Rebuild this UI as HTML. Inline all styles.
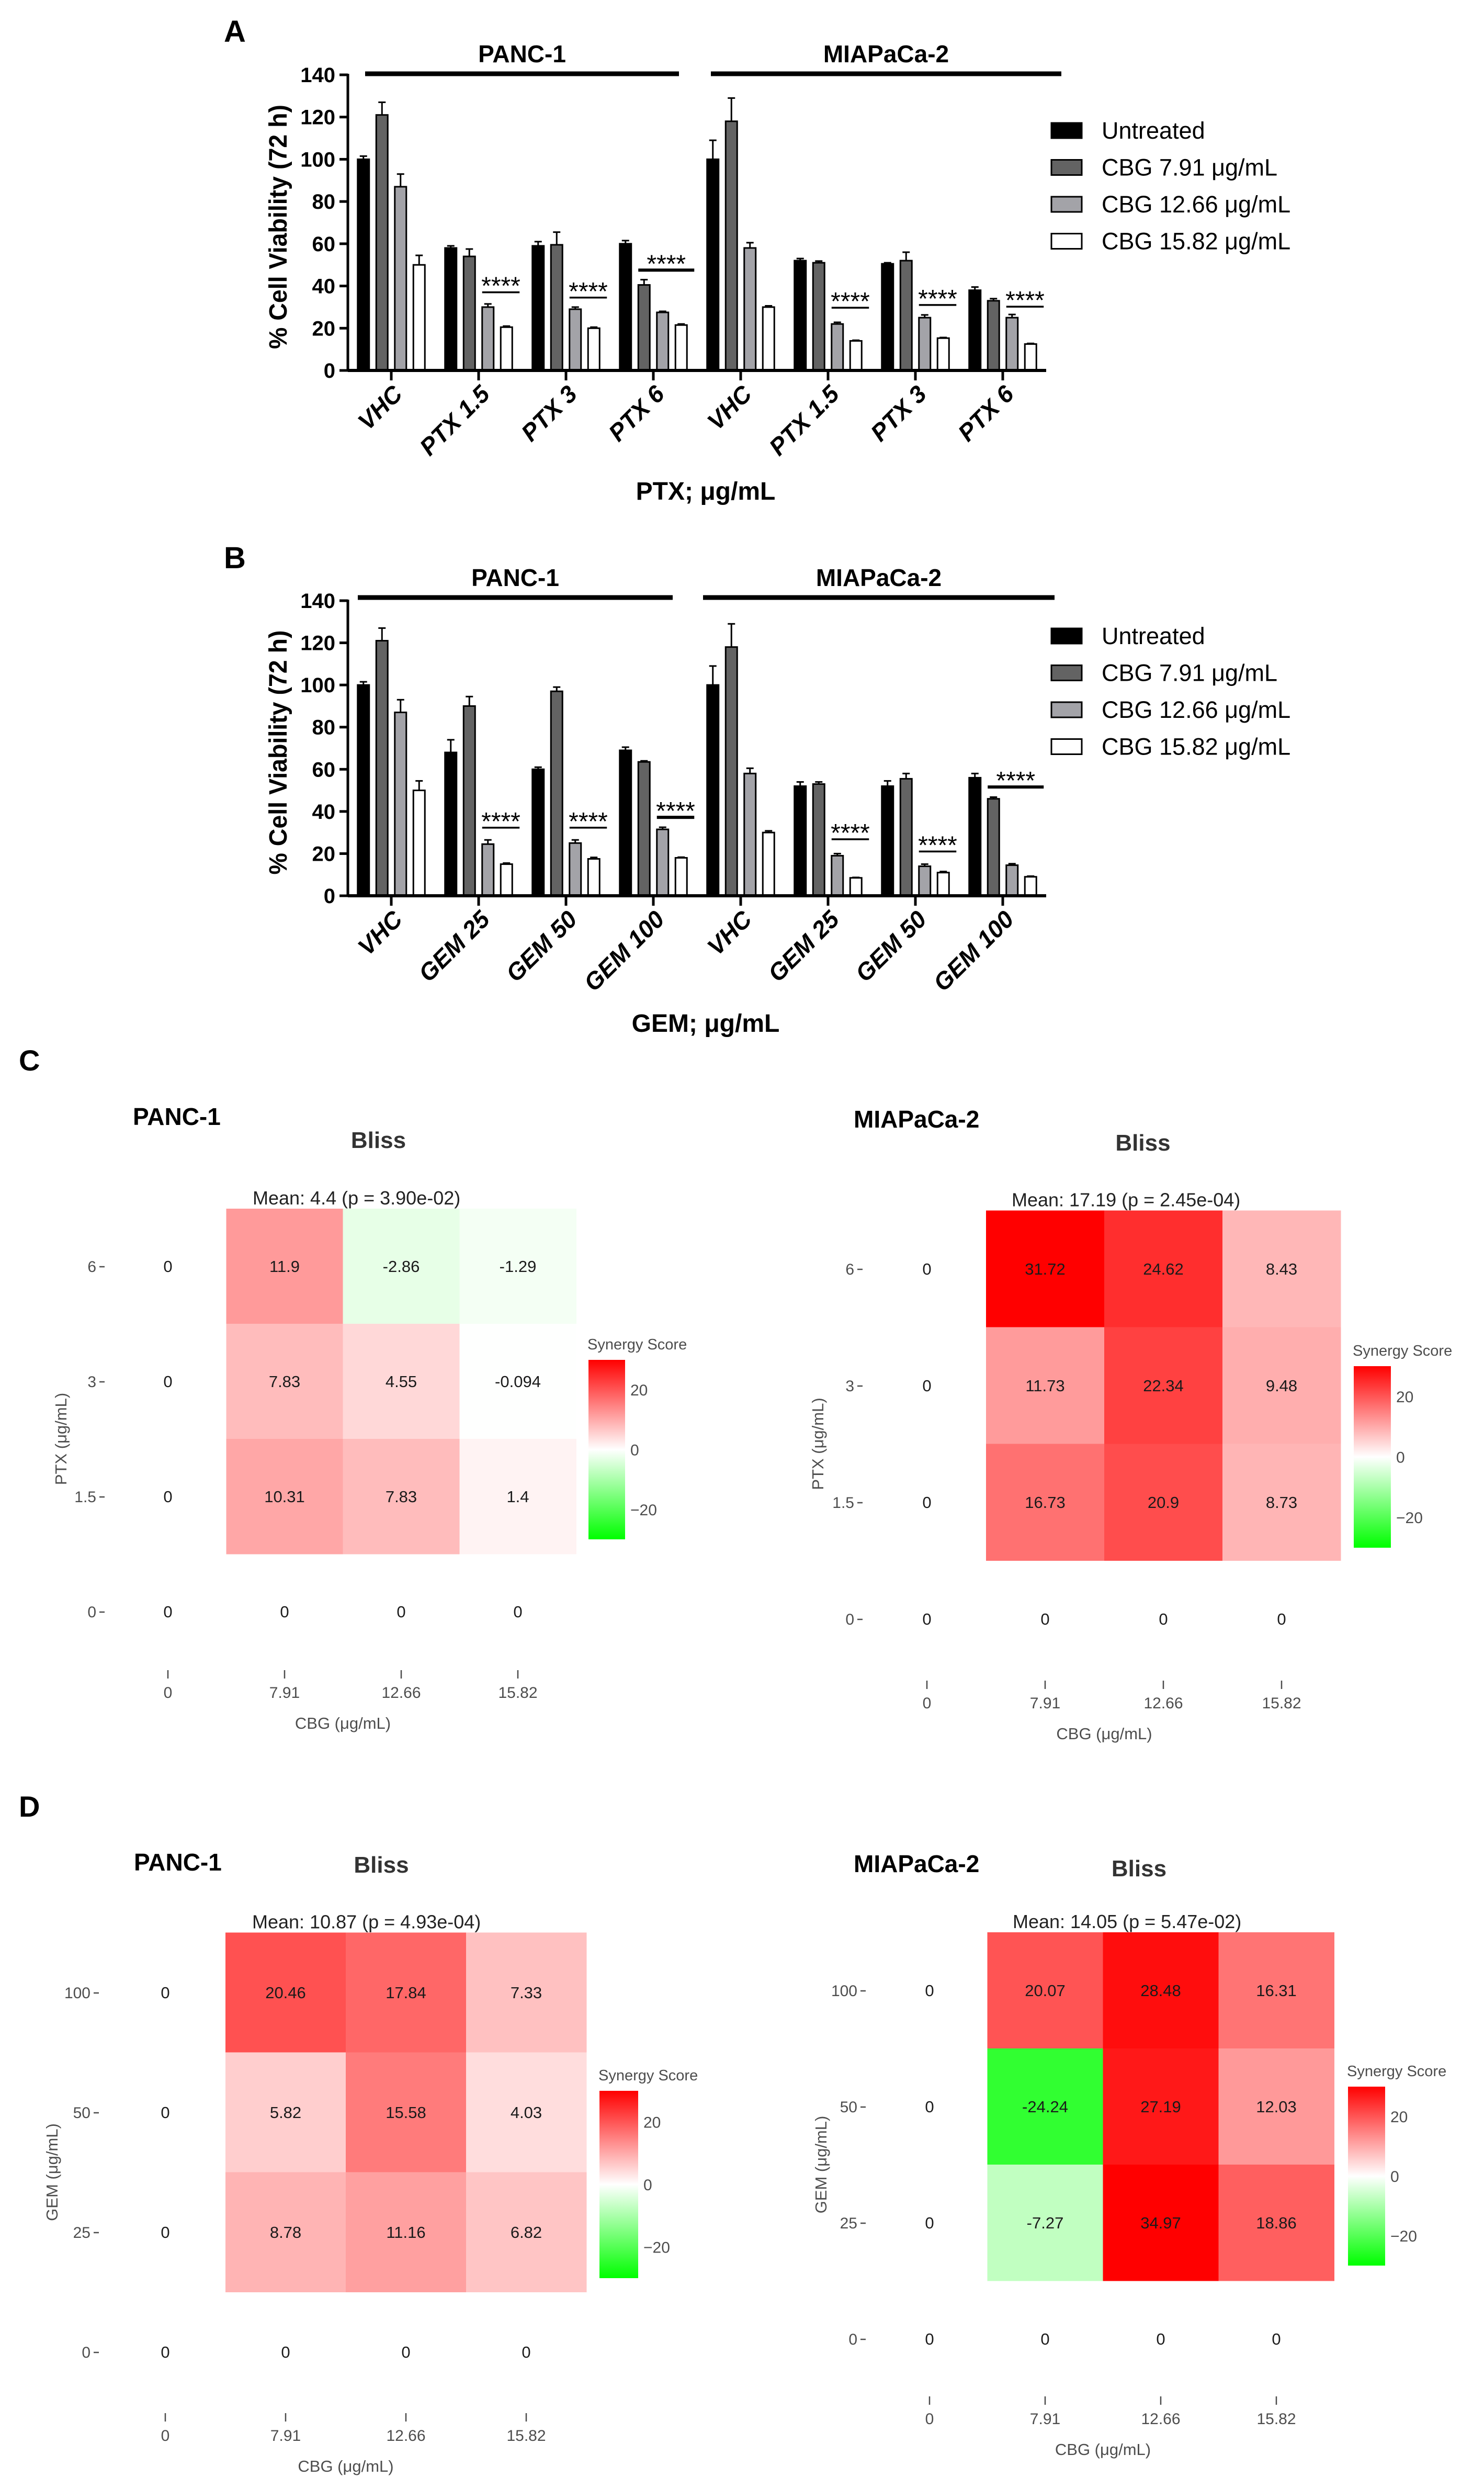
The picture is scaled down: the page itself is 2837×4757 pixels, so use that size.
<!DOCTYPE html>
<html><head><meta charset="utf-8">
<style>
html,body{margin:0;padding:0;background:#fff;}
svg{display:block;}
text{font-family:"Liberation Sans",Arial,sans-serif;}
</style></head>
<body>
<svg id="fig" width="2837" height="4757" viewBox="0 0 2837 4757" xmlns="http://www.w3.org/2000/svg">
<rect x="0" y="0" width="2837" height="4757" fill="#fff"/>
<text x="428" y="80" font-size="58" font-weight="bold">A</text>
<text x="428" y="1086" font-size="58" font-weight="bold">B</text>
<text x="36" y="2046" font-size="56" font-weight="bold">C</text>
<text x="36" y="3472" font-size="56" font-weight="bold">D</text>
<g id="charts"></g>
</svg>
<script>
// ---------- Bar chart data ----------
const seriesNames = ["Untreated","CBG 7.91 μg/mL","CBG 12.66 μg/mL","CBG 15.82 μg/mL"];
const yTicks = [0,20,40,60,80,100,120,140];
const catsA = ["VHC","PTX 1.5","PTX 3","PTX 6","VHC","PTX 1.5","PTX 3","PTX 6"];
const untreatedA = [100,58,59,60,100,52,50.5,38];
const cbg791A = [121,54,59.5,40.5,118,51,52,33];
const cbg1266A = [87,30,29,27.5,58,22,25,25];
const cbg1582A = [50,20.5,20,21.5,30,14,15.3,12.5];
const errUntreatedA = [1.5,1,2,1.5,9,1,0.5,1.5];
const err791A = [6,3.5,6,2.5,11,0.8,4,1];
const err1266A = [6,1.5,1,0.5,2.5,0.8,1.3,1.5];
const err1582A = [4.5,0.5,0.5,0.5,0.6,0.3,0.3,0.3];
const sigCatA = [1,2,3,5,6,7];
const sigStartA = [2,2,1,2,2,2];
const sigLevelA = [37,34.5,47.5,29.7,31,30.2];
const sigThickA = [0,0,1,0,0,0];

const catsB = ["VHC","GEM 25","GEM 50","GEM 100","VHC","GEM 25","GEM 50","GEM 100"];
const untreatedB = [100,68,60,69,100,52,52,56];
const cbg791B = [121,90,97,63.5,118,53,55.5,46];
const cbg1266B = [87,24.5,25,31.5,58,19,14,14.5];
const cbg1582B = [50,15,17.5,18,30,8.5,11,9];
const errUntreatedB = [1.5,6,1,1.5,9,2,2.5,2];
const err791B = [6,4.5,2,0.5,11,1,2.5,0.8];
const err1266B = [6,2,1.5,1,2.5,1,1,0.7];
const err1582B = [4.5,0.5,0.7,0.3,0.8,0.2,0.5,0.3];
const sigCatB = [1,2,3,5,6,7];
const sigStartB = [2,2,2,2,2,1];
const sigLevelB = [32.3,32.3,37.2,26.8,21,51.6];
const sigThickB = [0,0,1,0,0,1];

// ---------- Heatmap data (rows top->bottom: high dose -> low dose) ----------
const cbgDoses = ["0","7.91","12.66","15.82"];
const ptxDoses = ["6","3","1.5","0"];
const gemDoses = ["100","50","25","0"];
const blissPancPTX = [[11.9,-2.86,-1.29],[7.83,4.55,-0.094],[10.31,7.83,1.4]];
const blissMiaPTX = [[31.72,24.62,8.43],[11.73,22.34,9.48],[16.73,20.9,8.73]];
const blissPancGEM = [[20.46,17.84,7.33],[5.82,15.58,4.03],[8.78,11.16,6.82]];
const blissMiaGEM = [[20.07,28.48,16.31],[-24.24,27.19,12.03],[-7.27,34.97,18.86]];
const meanTexts = ["Mean: 4.4 (p = 3.90e-02)","Mean: 17.19 (p = 2.45e-04)","Mean: 10.87 (p = 4.93e-04)","Mean: 14.05 (p = 5.47e-02)"];
const legendTicks = [20,0,-20];

const NS="http://www.w3.org/2000/svg";
const root=document.getElementById('charts');
function el(tag,attrs,parent,txt){const e=document.createElementNS(NS,tag);for(const k in attrs)e.setAttribute(k,attrs[k]);if(txt!==undefined)e.textContent=txt;(parent||root).appendChild(e);return e;}

const fills=["#000000","#636363","#a3a3a8","#ffffff"];

function barChart(o){
  const g=el('g',{});
  
  
  const y0=o.y0, yTop=o.yTop;
  const Y=v=>y0-(v/140)*(y0-yTop);
  const X=i=>748+i*167;
  const off=j=>(j-1.5)*35.5;
  const axisX=665, xEnd=2000;
  yTicks.forEach(t=>{
    const ln=el('line',{x1:axisX-16,x2:axisX,y1:Y(t),y2:Y(t),stroke:'#000','stroke-width':5},g);
    
    
    const tx=el('text',{x:641,y:Y(t)+14,'font-size':40,'font-weight':'bold','text-anchor':'end'},g,String(t));
    
    
  });
  const yt=el('text',{x:0,y:0,'font-size':48,'font-weight':'bold','text-anchor':'middle',transform:`translate(548,${(y0+yTop)/2+8}) rotate(-90)`,textLength:467,lengthAdjust:'spacingAndGlyphs'},g,'% Cell Viability (72 h)');
  
  
  const vals=[o.s0,o.s1,o.s2,o.s3], errs=[o.e0,o.e1,o.e2,o.e3];
  o.cats.forEach((c,i)=>{
    for(let j=0;j<4;j++){
      const cx=X(i)+off(j), v=vals[j][i], e=errs[j][i];
      const ey=Y(v+e);
      const eb=el('line',{x1:cx,x2:cx,y1:Y(v),y2:ey,stroke:'#000','stroke-width':3},g);
      
      
      const cap=el('line',{x1:cx-7,x2:cx+7,y1:ey,y2:ey,stroke:'#000','stroke-width':3},g);
      
      
      const r=el('rect',{x:cx-11,y:Y(v),width:22,height:y0-Y(v),fill:fills[j],stroke:'#000','stroke-width':3},g);
      
      
    }
    const tk=el('line',{x1:X(i),x2:X(i),y1:y0,y2:y0+19,stroke:'#000','stroke-width':5},g);
    
    
    const lb=el('text',{x:0,y:0,'font-size':46,'font-weight':'bold','font-style':'italic','text-anchor':'end',transform:`translate(${X(i)+24},${y0+48}) rotate(-45)`},g,c);
    
    
  });
  const ya=el('line',{x1:axisX,x2:axisX,y1:yTop-2,y2:y0+2,stroke:'#000','stroke-width':5},g);
  
  
  const xa=el('line',{x1:axisX,x2:xEnd,y1:y0,y2:y0,stroke:'#000','stroke-width':6},g);
  
  
  o.sigCat.forEach((ci,k)=>{
    const x1=X(ci)+off(o.sigStart[k])-11, x2=X(ci)+off(3)+25, ly=Y(o.sigLevel[k]);
    const sl=el('line',{x1:x1,x2:x2,y1:ly,y2:ly,stroke:'#000','stroke-width':o.sigThick[k]?6:3.5},g);
    
    
    const st=el('text',{x:(x1+x2)/2,y:ly+4,'font-size':48,'text-anchor':'middle'},g,'****');
    
    
  });
  [[o.h1x1,o.h1x2,'PANC-1'],[o.h2x1,o.h2x2,'MIAPaCa-2']].forEach(h=>{
    const hl=el('line',{x1:h[0],x2:h[1],y1:o.hy,y2:o.hy,stroke:'#000','stroke-width':9},g);
    
    
    const ht=el('text',{x:(h[0]+h[1])/2,y:o.hy-22,'font-size':46,'font-weight':'bold','text-anchor':'middle'},g,h[2]);
    
    
  });
  seriesNames.forEach((s,j)=>{
    const ly=o.legY+j*70.5;
    const sq=el('rect',{x:2010,y:ly,width:58,height:29,fill:fills[j],stroke:'#000','stroke-width':3},g);
    
    
    const lt=el('text',{x:2106,y:ly+30,'font-size':45},g,s);
    
    
  });
  const xt=el('text',{x:1349,y:o.xTitleY,'font-size':48,'font-weight':'bold','text-anchor':'middle'},g,o.xTitle);
  
  
}

barChart({name:'bar-chart-ptx',y0:708,yTop:143,cats:catsA,s0:untreatedA,s1:cbg791A,s2:cbg1266A,s3:cbg1582A,
  e0:errUntreatedA,e1:err791A,e2:err1266A,e3:err1582A,sigCat:sigCatA,sigStart:sigStartA,sigLevel:sigLevelA,sigThick:sigThickA,
  h1x1:698,h1x2:1298,h2x1:1359,h2x2:2029,hy:141,legY:235,xTitle:'PTX; μg/mL',xTitleY:955});
barChart({name:'bar-chart-gem',y0:1712,yTop:1148,cats:catsB,s0:untreatedB,s1:cbg791B,s2:cbg1266B,s3:cbg1582B,
  e0:errUntreatedB,e1:err791B,e2:err1266B,e3:err1582B,sigCat:sigCatB,sigStart:sigStartB,sigLevel:sigLevelB,sigThick:sigThickB,
  h1x1:684,h1x2:1286,h2x1:1344,h2x2:2016,hy:1142,legY:1201,xTitle:'GEM; μg/mL',xTitleY:1972});

// ---------- heatmaps ----------
function col(v){
  const t=Math.min(Math.abs(v)/30,1);
  const o=Math.round(255*(1-t));
  return v>=0?`rgb(255,${o},${o})`:`rgb(${o},255,${o})`;
}
let gradId=0;
function heatmap(o){
  const g=el('g',{});
  
  
  const CX=i=>o.ox+i*o.cw, RY=r=>o.oy+r*o.rh;
  const grey='#4d4d4d';
  o.data.forEach((row,r)=>row.forEach((v,c)=>{
    const rc=el('rect',{x:CX(c+1)-o.cw/2,y:RY(r)-o.rh/2,width:o.cw+0.5,height:o.rh+0.5,fill:col(v)},g);
    
    
    const tv=el('text',{x:CX(c+1),y:RY(r)+11,'font-size':31,fill:'#1a1a1a','text-anchor':'middle'},g,String(v));
    
    
  }));
  for(let r=0;r<4;r++){
    const z=el('text',{x:CX(0),y:RY(r)+11,'font-size':31,fill:'#1a1a1a','text-anchor':'middle'},g,'0');
    
    
  }
  for(let c=1;c<4;c++){
    const z=el('text',{x:CX(c),y:RY(3)+11,'font-size':31,fill:'#1a1a1a','text-anchor':'middle'},g,'0');
    
    
  }
  o.rowLabels.forEach((l,r)=>{
    const t=el('text',{x:o.rlx-16,y:RY(r)+11,'font-size':30,fill:grey,'text-anchor':'end'},g,l);
    
    
    const tk=el('line',{x1:o.rlx-10,x2:o.rlx,y1:RY(r)+1,y2:RY(r)+1,stroke:grey,'stroke-width':2.5},g);
    
    
  });
  cbgDoses.forEach((l,c)=>{
    const tk=el('line',{x1:CX(c),x2:CX(c),y1:o.tickY-10,y2:o.tickY+6,stroke:grey,'stroke-width':2.5},g);
    
    
    const t=el('text',{x:CX(c),y:o.tickY+43,'font-size':30,fill:grey,'text-anchor':'middle'},g,l);
    
    
  });
  const xt=el('text',{x:CX(1.5),y:o.tickY+102,'font-size':31,fill:grey,'text-anchor':'middle'},g,'CBG (μg/mL)');
  
  
  const yt=el('text',{x:0,y:0,'font-size':31,fill:grey,'text-anchor':'middle',transform:`translate(${o.ytx},${RY(1.5)}) rotate(-90)`},g,o.yTitle);
  
  
  const ct=el('text',{x:o.clx,y:o.cly,'font-size':46,'font-weight':'bold'},g,o.cell);
  
  
  const bt=el('text',{x:CX(1.5)+o.blissDx,y:o.cly+o.blissDy,'font-size':44,'font-weight':'bold',fill:'#333','text-anchor':'middle'},g,'Bliss');
  
  
  const mt=el('text',{x:o.mx,y:RY(0)-o.rh/2-8,'font-size':36,fill:'#222'},g,o.mean);
  
  
  const id='grad'+(gradId++);
  const defs=el('defs',{},g);
  const lg=el('linearGradient',{id:id,x1:0,y1:0,x2:0,y2:1},defs);
  el('stop',{offset:'0%','stop-color':'#ff0000'},lg);
  el('stop',{offset:'50%','stop-color':'#ffffff'},lg);
  el('stop',{offset:'100%','stop-color':'#00ff00'},lg);
  const cb=el('rect',{x:o.cbx,y:o.cby,width:o.cbw,height:o.cbh,fill:`url(#${id})`},g);
  
  
  const st=el('text',{x:o.cbx-2,y:o.cby-20,'font-size':29,fill:grey},g,'Synergy Score');
  
  
  legendTicks.forEach(v=>{
    const ly=o.cby+o.cbh/2-(v/30)*(o.cbh/2);
    const t=el('text',{x:o.cbx+o.cbw+10,y:ly+11,'font-size':30,fill:grey},g,v<0?'\u2212'+Math.abs(v):String(v));
    
    
  });
}

heatmap({name:'heatmap-panc1-ptx',data:blissPancPTX,rowLabels:ptxDoses,yTitle:'PTX (μg/mL)',cell:'PANC-1',mean:meanTexts[0],
  ox:321,cw:223,oy:2420,rh:220,rlx:200,tickY:3202,ytx:127,clx:254,cly:2150,blissDx:68,blissDy:44,mx:483,
  cbx:1125,cby:2599,cbw:70,cbh:343});
heatmap({name:'heatmap-miapaca2-ptx',data:blissMiaPTX,rowLabels:ptxDoses,yTitle:'PTX (μg/mL)',cell:'MIAPaCa-2',mean:meanTexts[1],
  ox:1772,cw:226,oy:2425,rh:223,rlx:1649,tickY:3222,ytx:1574,clx:1632,cly:2155,blissDx:74,blissDy:44,mx:1934,
  cbx:2588,cby:2611,cbw:71,cbh:347});
heatmap({name:'heatmap-panc1-gem',data:blissPancGEM,rowLabels:gemDoses,yTitle:'GEM (μg/mL)',cell:'PANC-1',mean:meanTexts[2],
  ox:316,cw:230,oy:3808,rh:229,rlx:189,tickY:4622,ytx:110,clx:256,cly:3575,blissDx:68,blissDy:4,mx:482,
  cbx:1146,cby:3996,cbw:74,cbh:358});
heatmap({name:'heatmap-miapaca2-gem',data:blissMiaGEM,rowLabels:gemDoses,yTitle:'GEM (μg/mL)',cell:'MIAPaCa-2',mean:meanTexts[3],
  ox:1777,cw:221,oy:3804,rh:222,rlx:1655,tickY:4590,ytx:1580,clx:1632,cly:3578,blissDx:69,blissDy:8,mx:1936,
  cbx:2577,cby:3988,cbw:71,cbh:342});
</script>
</body></html>
